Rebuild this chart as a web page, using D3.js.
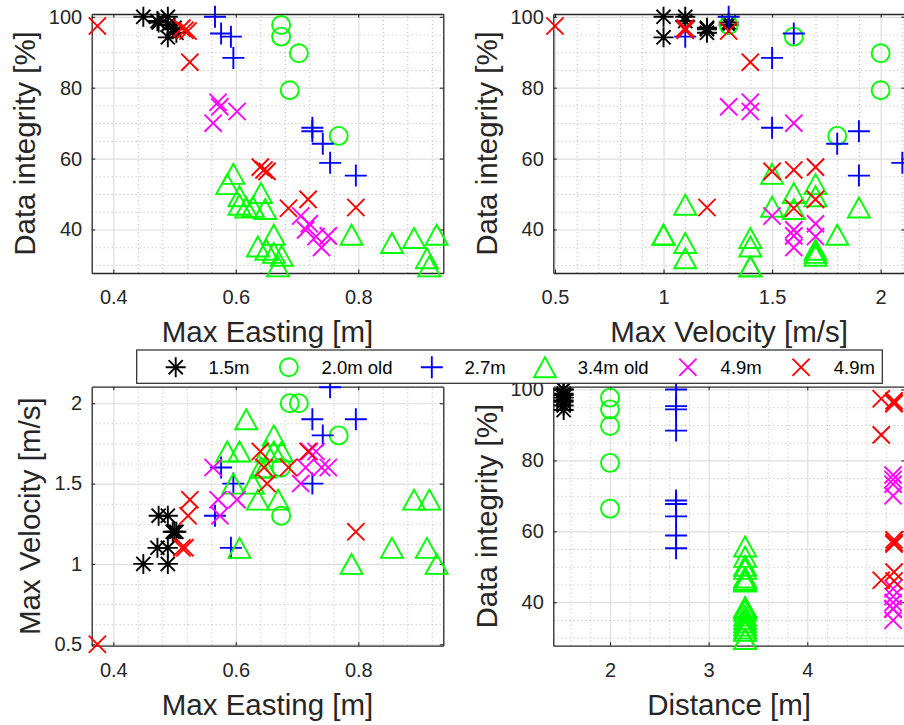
<!DOCTYPE html>
<html>
<head>
<meta charset="utf-8">
<script src="https://cdn.jsdelivr.net/npm/d3@7"></script>
<style>
  html, body { margin: 0; padding: 0; background: #ffffff; }
  svg { display: block; }
</style>
</head>
<body>
<script>
// ---- Series definitions -------------------------------------------------
const seriesNames   = ["1.5m", "2.0m old", "2.7m", "3.4m old", "4.9m", "4.9m"];
const seriesColors  = ["#000000", "#00ff00", "#0000ff", "#00ff00", "#ff00ff", "#ff0000"];
const seriesMarkers = ["asterisk", "circle", "plus", "triangle", "x", "x"];

// 1.5m
const easting_15   = [0.449, 0.489, 0.472, 0.489, 0.474, 0.489, 0.497, 0.503, 0.500];
const velocity_15  = [1.0, 1.0, 1.1, 1.1, 1.3, 1.3, 1.2, 1.2, 1.2];
const integrity_15 = [100, 94.2, 98.8, 100, 98.4, 97.7, 96.5, 95.5, 96.9];
const distance_15  = [1.53, 1.53, 1.53, 1.53, 1.53, 1.53, 1.53, 1.53, 1.53];

// 2.0m old
const easting_20   = [0.674, 0.674, 0.703, 0.688, 0.768];
const velocity_20  = [1.3, 1.6, 2.0, 2.0, 1.8];
const integrity_20 = [97.7, 94.4, 89.7, 79.3, 66.4];
const distance_20  = [2.0, 2.0, 2.0, 2.0, 2.0];

// 2.7m
const easting_27   = [0.566, 0.576, 0.592, 0.596, 0.725, 0.725, 0.742, 0.754, 0.796];
const velocity_27  = [1.3, 1.6, 1.1, 1.5, 1.5, 1.9, 1.8, 2.1, 1.9];
const integrity_27 = [100, 95.3, 94.4, 88.4, 68.7, 67.7, 64.2, 58.8, 55.2];
const distance_27  = [2.67, 2.67, 2.67, 2.67, 2.67, 2.67, 2.67, 2.67, 2.67];

// 3.4m old
const easting_34   = [0.596, 0.586, 0.606, 0.641, 0.606, 0.628, 0.648, 0.617, 0.636, 0.669,
                      0.662, 0.650, 0.662, 0.675, 0.789, 0.928, 0.855, 0.891, 0.912, 0.916];
const velocity_34  = [1.5, 1.7, 1.7, 1.6, 1.1, 1.5, 1.6, 1.9, 1.4, 1.4,
                      1.8, 1.7, 1.7, 1.7, 1.0, 1.0, 1.1, 1.4, 1.1, 1.4];
const integrity_34 = [55.7, 52.8, 49.4, 50.3, 47.0, 46.4, 45.8, 46.2, 35.2, 29.6,
                      38.5, 34.3, 33.4, 32.6, 38.5, 38.5, 36.2, 37.6, 31.9, 29.6];
const distance_34  = [3.37, 3.37, 3.37, 3.37, 3.37, 3.37, 3.37, 3.37, 3.37, 3.37,
                      3.37, 3.37, 3.37, 3.37, 3.37, 3.37, 3.37, 3.37, 3.37, 3.37];

// 4.9m (magenta)
const easting_49a   = [0.563, 0.571, 0.574, 0.602, 0.706, 0.720, 0.714, 0.731, 0.751, 0.740];
const velocity_49a  = [1.6, 1.4, 1.3, 1.4, 1.5, 1.7, 1.6, 1.7, 1.6, 1.6];
const integrity_49a = [70.0, 75.9, 74.6, 73.3, 43.8, 41.6, 39.9, 38.0, 38.2, 34.9];
const distance_49a  = [4.87, 4.87, 4.87, 4.87, 4.87, 4.87, 4.87, 4.87, 4.87, 4.87];

// 4.9m (red)
const easting_49b   = [0.374, 0.512, 0.517, 0.522, 0.525, 0.640, 0.646, 0.651, 0.686, 0.718, 0.796];
const velocity_49b  = [0.5, 1.1, 1.1, 1.3, 1.4, 1.7, 1.6, 1.5, 1.6, 1.7, 1.2];
const integrity_49b = [97.4, 96.8, 96.2, 96.0, 87.2, 57.6, 56.8, 56.4, 46.0, 48.5, 46.2];
const distance_49b  = [4.75, 4.88, 4.88, 4.88, 4.75, 4.88, 4.88, 4.88, 4.88, 4.88, 4.75];

// Tick values
const eastingTicks   = [0.4, 0.6, 0.8];
const velocityTicks  = [0.5, 1, 1.5, 2];
const integrityTicks = [40, 60, 80, 100];
const distanceTicks  = [2, 3, 4];

// ---- Assemble records ----------------------------------------------------
const columns = [
  [easting_15,  velocity_15,  integrity_15,  distance_15],
  [easting_20,  velocity_20,  integrity_20,  distance_20],
  [easting_27,  velocity_27,  integrity_27,  distance_27],
  [easting_34,  velocity_34,  integrity_34,  distance_34],
  [easting_49a, velocity_49a, integrity_49a, distance_49a],
  [easting_49b, velocity_49b, integrity_49b, distance_49b]
];
const series = columns.map((c, i) => ({
  name: seriesNames[i],
  color: seriesColors[i],
  marker: seriesMarkers[i],
  points: c[0].map((e, j) => ({ easting: e, velocity: c[1][j], integrity: c[2][j], distance: c[3][j] }))
}));

// ---- Layout ----------------------------------------------------------------
const W = 904, H = 725;
const PW = 351.6, PH = 259;
const ink = "#262626";
const FONT = "'Liberation Sans', Arial, Helvetica, sans-serif";

const svg = d3.select("body").append("svg")
  .attr("width", W).attr("height", H)
  .style("font-family", FONT);

function markerPath(type) {
  switch (type) {
    case "asterisk": {
      const r = 10, a = r * Math.SQRT1_2;
      return `M${-r},0H${r}M0,${-r}V${r}M${-a},${-a}L${a},${a}M${-a},${a}L${a},${-a}`;
    }
    case "circle": {
      const r = 9;
      return `M${r},0A${r},${r} 0 1,1 ${-r},0A${r},${r} 0 1,1 ${r},0Z`;
    }
    case "plus": {
      const r = 11;
      return `M${-r},0H${r}M0,${-r}V${r}`;
    }
    case "triangle": {
      const w = 11, h = 10;
      return `M0,${-h}L${w},${h}L${-w},${h}Z`;
    }
    default: { // "x"
      const r = 8.6;
      return `M${-r},${-r}L${r},${r}M${-r},${r}L${r},${-r}`;
    }
  }
}

function minorValues(dom, step, majors) {
  const out = [];
  const start = Math.ceil(dom[0] / step - 1e-9);
  for (let k = start; k * step <= dom[1] + 1e-9; k++) {
    const v = +(k * step).toFixed(6);
    if (!majors.some(m => Math.abs(m - v) < 1e-6)) out.push(v);
  }
  return out;
}

const panels = [
  { x0: 91.7,  y0: 14,    xKey: "easting",  yKey: "integrity",
    xDom: [0.3647, 0.9388], yDom: [27.73, 100.79],
    xTicks: eastingTicks, yTicks: integrityTicks, xMinor: 0.04, yMinor: 5,
    xLabel: "Max Easting [m]", yLabel: "Data integrity [%]", yLabelOff: -56.7 },
  { x0: 553.3, y0: 14,    xKey: "velocity", yKey: "integrity",
    xDom: [0.4922, 2.1118], yDom: [27.73, 100.79],
    xTicks: velocityTicks, yTicks: integrityTicks, xMinor: 0.1, yMinor: 5,
    xLabel: "Max Velocity [m/s]", yLabel: "Data integrity [%]", yLabelOff: -56.6 },
  { x0: 91.7,  y0: 386.7, xKey: "easting",  yKey: "velocity",
    xDom: [0.3647, 0.9388], yDom: [0.491, 2.103],
    xTicks: eastingTicks, yTicks: velocityTicks, xMinor: 0.04, yMinor: 0.125,
    xLabel: "Max Easting [m]", yLabel: "Max Velocity [m/s]", yLabelOff: -51.6 },
  { x0: 553.3, y0: 386.7, xKey: "distance", yKey: "integrity",
    xDom: [1.425, 4.99], yDom: [27.73, 100.79],
    xTicks: distanceTicks, yTicks: integrityTicks, xMinor: 0.2, yMinor: 5,
    xLabel: "Distance [m]", yLabel: "Data integrity [%]", yLabelOff: -56.6 }
];

const fmt = d => String(d);

panels.forEach(p => {
  const x = d3.scaleLinear().domain(p.xDom).range([0, PW]);
  const y = d3.scaleLinear().domain(p.yDom).range([PH, 0]);
  const g = svg.append("g").attr("transform", `translate(${p.x0},${p.y0})`);

  g.append("rect").attr("width", PW).attr("height", PH).attr("fill", "#ffffff");

  // minor grid
  const gMinX = g.append("g").attr("transform", `translate(0,${PH})`)
    .call(d3.axisBottom(x).tickValues(minorValues(p.xDom, p.xMinor, p.xTicks))
      .tickSize(-PH).tickFormat(""));
  const gMinY = g.append("g")
    .call(d3.axisLeft(y).tickValues(minorValues(p.yDom, p.yMinor, p.yTicks))
      .tickSize(-PW).tickFormat(""));
  [gMinX, gMinY].forEach(a => {
    a.select(".domain").remove();
    a.selectAll(".tick line").attr("stroke", "#b9b9b9").attr("stroke-width", 1)
      .attr("stroke-dasharray", "1,3");
  });

  // major grid
  const gMajX = g.append("g").attr("transform", `translate(0,${PH})`)
    .call(d3.axisBottom(x).tickValues(p.xTicks).tickSize(-PH).tickFormat(""));
  const gMajY = g.append("g")
    .call(d3.axisLeft(y).tickValues(p.yTicks).tickSize(-PW).tickFormat(""));
  [gMajX, gMajY].forEach(a => {
    a.select(".domain").remove();
    a.selectAll(".tick line").attr("stroke", "#dedede").attr("stroke-width", 1.2);
  });

  // box axes with inward ticks
  const axB = g.append("g").attr("transform", `translate(0,${PH})`)
    .call(d3.axisBottom(x).tickValues(p.xTicks).tickSizeInner(-3.5).tickSizeOuter(0)
      .tickPadding(16.8).tickFormat(fmt));
  const axL = g.append("g")
    .call(d3.axisLeft(y).tickValues(p.yTicks).tickSizeInner(-3.5).tickSizeOuter(0)
      .tickPadding(9.5).tickFormat(fmt));
  const axT = g.append("g")
    .call(d3.axisTop(x).tickValues(p.xTicks).tickSizeInner(-3.5).tickSizeOuter(0).tickFormat(""));
  const axR = g.append("g").attr("transform", `translate(${PW},0)`)
    .call(d3.axisRight(y).tickValues(p.yTicks).tickSizeInner(-3.5).tickSizeOuter(0).tickFormat(""));
  [axB, axL, axT, axR].forEach(a => {
    a.select(".domain").attr("stroke", ink).attr("stroke-width", 1.3);
    a.selectAll(".tick line").attr("stroke", ink).attr("stroke-width", 1.1);
    a.selectAll(".tick text").attr("fill", ink).style("font-size", "20px")
      .style("font-family", FONT);
  });

  // axis labels
  g.append("text")
    .attr("x", PW / 2).attr("y", PH + 69)
    .attr("text-anchor", "middle").attr("fill", ink)
    .style("font-size", "29.5px")
    .text(p.xLabel);
  g.append("text")
    .attr("transform", `translate(${p.yLabelOff},${PH / 2}) rotate(-90)`)
    .attr("text-anchor", "middle").attr("fill", ink)
    .style("font-size", "29.5px")
    .text(p.yLabel);

  // markers
  series.forEach(s => {
    const pts = s.points.filter(d =>
      d[p.xKey] >= p.xDom[0] && d[p.xKey] <= p.xDom[1] &&
      d[p.yKey] >= p.yDom[0] && d[p.yKey] <= p.yDom[1]);
    g.append("g").selectAll("path").data(pts).join("path")
      .attr("transform", d => `translate(${x(d[p.xKey])},${y(d[p.yKey])})`)
      .attr("d", markerPath(s.marker))
      .attr("fill", "none")
      .attr("stroke", s.color)
      .attr("stroke-width", 1.9);
  });
});

// ---- Legend ----------------------------------------------------------------
const legend = svg.append("g");
legend.append("rect")
  .attr("x", 136.7).attr("y", 350).attr("width", 745.6).attr("height", 33.3)
  .attr("fill", "#ffffff").attr("stroke", ink).attr("stroke-width", 1.2);

let cx = 175.7;
series.forEach(s => {
  legend.append("path")
    .attr("transform", `translate(${cx},367.2)`)
    .attr("d", markerPath(s.marker))
    .attr("fill", "none").attr("stroke", s.color).attr("stroke-width", 1.9);
  const t = legend.append("text")
    .attr("x", cx + 32.7).attr("y", 374.2)
    .attr("fill", "#000000")
    .style("font-size", "18.5px")
    .text(s.name);
  cx += 32.7 + t.node().getComputedTextLength() + 39.3;
});
</script>
</body>
</html>
